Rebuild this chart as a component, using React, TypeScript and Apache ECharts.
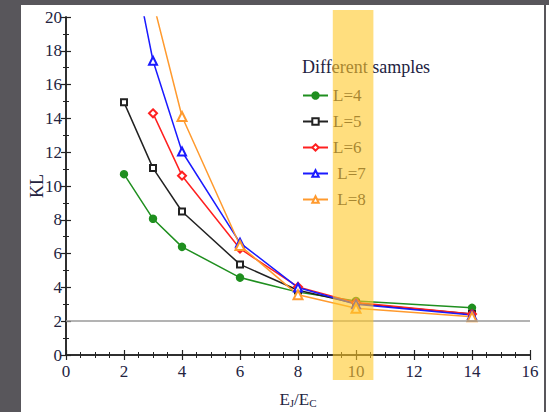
import React, { useEffect, useRef } from "react";
import * as echarts from "echarts";

const seriesNames = ["L=4", "L=5", "L=6", "L=7", "L=8"];
const xL4 = [2, 3, 4, 6, 8, 10, 14];
const yL4 = [10.7, 8.06, 6.4, 4.58, 3.72, 3.2, 2.79];
const xL5 = [2, 3, 4, 6, 8, 10, 14];
const yL5 = [14.95, 11.06, 8.49, 5.36, 3.83, 3.05, 2.42];
const xL6 = [3, 4, 6, 8, 10, 14];
const yL6 = [14.3, 10.61, 6.29, 4.03, 3.1, 2.42];
const xL7 = [2, 3, 4, 6, 8, 10, 14];
const yL7 = [26.0, 17.41, 12.04, 6.64, 3.99, 3.0, 2.36];
const xL8 = [3, 4, 6, 8, 10, 14];
const yL8 = [20.9, 14.11, 6.48, 3.56, 2.77, 2.26];
const bandRange = [9.2, 10.6];
const refLevel = 2;

const colors = ["#1f8f1f", "#222222", "#ff2020", "#1a1aff", "#ff9a2e"];
const symbols = ["circle", "emptyRect", "emptyDiamond", "emptyTriangle", "emptyTriangle"];
const symbolSizes = [7, 6, 8, 8, 9];

const FONT = "'Liberation Serif', 'DejaVu Serif', serif";
const TXT = "#23233f";

function pairs(xs: number[], ys: number[]) {
  return xs.map((x, i) => [x, ys[i]]);
}

export default function App() {
  const ref = useRef<HTMLDivElement>(null);
  useEffect(() => {
    if (!ref.current) return;
    const chart = echarts.init(ref.current, null, { renderer: "svg" });
    const allX = [xL4, xL5, xL6, xL7, xL8];
    const allY = [yL4, yL5, yL6, yL7, yL8];
    const axisCommon = {
      min: 0,
      axisLine: { show: true, lineStyle: { color: "#222", width: 1.5 } },
      axisTick: { show: true, inside: true, length: 5, lineStyle: { color: "#222", width: 1.2 } },
      minorTick: { show: true, length: 3, lineStyle: { color: "#222", width: 1 } },
      splitLine: { show: false },
    };
    const series: any[] = seriesNames.map((name, i) => ({
      name,
      type: "line",
      data: pairs(allX[i], allY[i]),
      symbol: symbols[i],
      symbolSize: symbolSizes[i],
      showAllSymbol: true,
      clip: true,
      lineStyle: { color: colors[i], width: 1.5 },
      itemStyle: { color: colors[i], borderColor: colors[i], borderWidth: i === 3 ? 2 : 1.5 },
      z: 3,
    }));
    series[0].markLine = {
      silent: true,
      symbol: ["none", "none"],
      label: { show: false },
      lineStyle: { color: "#9a9a9a", width: 1.5, type: "solid" },
      data: [{ yAxis: refLevel }],
    };
    const labelStyle = { fontFamily: FONT, fontSize: 17, color: TXT };
    const option: any = {
      animation: false,
      backgroundColor: "#ffffff",
      textStyle: { fontFamily: FONT, color: TXT },
      grid: { left: 45, right: 14, top: 12, bottom: 57, outerBoundsMode: "none", containLabel: false },
      title: {
        text: "Different samples",
        left: 276,
        top: 48,
        textStyle: { fontFamily: FONT, fontSize: 18, fontWeight: "normal", color: TXT },
      },
      legend: {
        orient: "vertical",
        left: 276,
        top: 77,
        itemGap: 9,
        itemWidth: 25,
        itemHeight: 8,
        data: seriesNames,
        formatter: (n: string) => (n === "L=7" || n === "L=8" ? "\u00a0" + n : n),
        textStyle: { fontFamily: FONT, fontSize: 17, color: TXT },
      },
      xAxis: [
        {
          ...axisCommon,
          type: "value",
          max: 16,
          interval: 2,
          minorTick: { ...axisCommon.minorTick, splitNumber: 4 },
          position: "bottom",
          axisLabel: { ...labelStyle, margin: 8 },
          name: "E{s|J}/E{s|C}",
          nameLocation: "middle",
          nameGap: 36,
          nameTextStyle: {
            fontFamily: FONT,
            fontSize: 17,
            color: TXT,
            rich: { s: { fontFamily: FONT, fontSize: 11, color: TXT, verticalAlign: "bottom", padding: [6, 0, 0, 0] } },
          },
        },
        {
          ...axisCommon,
          type: "value",
          max: 16,
          interval: 2,
          minorTick: { ...axisCommon.minorTick, splitNumber: 4 },
          position: "top",
          axisLabel: { show: false },
        },
      ],
      yAxis: [
        {
          ...axisCommon,
          type: "value",
          max: 20,
          interval: 2,
          minorTick: { ...axisCommon.minorTick, splitNumber: 2 },
          position: "left",
          axisLabel: { ...labelStyle, margin: 4 },
          name: "KL",
          nameLocation: "middle",
          nameGap: 20,
          nameMoveOverlap: false,
          nameTextStyle: { fontFamily: FONT, fontSize: 18, color: TXT },
        },
        {
          ...axisCommon,
          type: "value",
          max: 20,
          interval: 2,
          minorTick: { ...axisCommon.minorTick, splitNumber: 2 },
          position: "right",
          axisLabel: { show: false },
        },
      ],
      series,
    };
    chart.setOption(option);
    const x0 = chart.convertToPixel({ xAxisIndex: 0 }, bandRange[0]) as number;
    const x1 = chart.convertToPixel({ xAxisIndex: 0 }, bandRange[1]) as number;
    const yTop = chart.convertToPixel({ yAxisIndex: 0 }, 20) as number;
    const yBot = chart.convertToPixel({ yAxisIndex: 0 }, 0) as number;
    chart.setOption({
      graphic: [
        {
          type: "rect",
          z: 100,
          silent: true,
          shape: { x: x0, y: yTop - 7, width: x1 - x0, height: yBot - yTop + 32 },
          style: { fill: "rgba(255,200,40,0.6)" },
        },
      ],
    });
    return () => chart.dispose();
  }, []);
  return (
    <div style={{ position: "fixed", left: 0, top: 0, width: 549, height: 412, background: "#58565b", overflow: "hidden" }}>
      <div ref={ref} style={{ position: "absolute", left: 21, top: 5, width: 523, height: 407 }} />
      <div style={{ position: "absolute", left: 544, top: 5, width: 2, height: 407, background: "#58565b" }} />
      <div style={{ position: "absolute", left: 546, top: 5, width: 3, height: 407, background: "#ffffff" }} />
    </div>
  );
}
